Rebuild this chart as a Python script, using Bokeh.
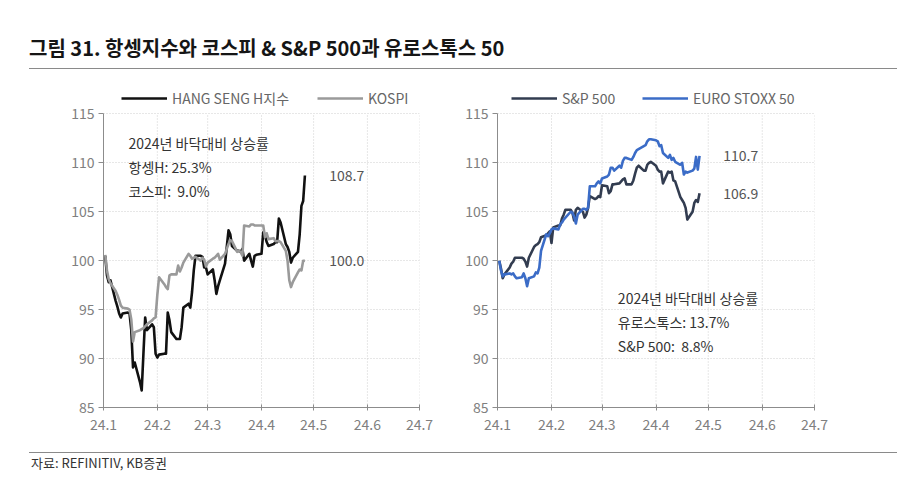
import pandas as pd
from bokeh.plotting import figure
from bokeh.models import Div, Legend, LegendItem, FixedTicker, Label, Range1d
from bokeh.layouts import column, row
from bokeh.embed import file_html
from bokeh.resources import INLINE

FONT = "Noto Sans CJK KR"

# ---------------- data ----------------
dates = pd.bdate_range("2024-01-02", "2024-04-26")
month_starts = pd.date_range("2024-01-01", "2024-07-01", freq="MS")
month_labels = ["24.1", "24.2", "24.3", "24.4", "24.5", "24.6", "24.7"]
y_ticks = [85, 90, 95, 100, 105, 110, 115]

hscei = [
    100.5, 98.5, 97.8, 98.0,
    95.9, 95.3, 94.6, 94.2, 94.6,
    94.7, 94.6, 92.9, 89.1, 89.6,
    87.6, 86.75, 90.5, 94.2, 92.9,
    93.5, 93.2, 90.5, 90.1, 90.4,
    90.5, 90.5, 94.7, 93.9, 92.7,
    92.0, 92.0, 92.0, 93.2, 95.2,
    95.6, 95.2, 96.8, 99.0, 100.5,
    100.5, 100.4, 99.3, 99.3, 98.6,
    99.1, 98.0, 96.6, 97.4, 98.0,
    99.7, 101.4, 103.1, 102.7, 101.5,
    101.0, 101.0, 100.9, 101.2, 100.0,
    100.7, 100.0, 99.4, 100.5, 100.6,
    100.7, 102.9, 102.6, 101.9, 101.5,
    101.7, 101.9, 101.9, 104.3, 103.9,
    101.7, 101.4, 100.9, 99.8, 100.3,
    100.9, 102.7, 105.6, 106.1, 108.7,
]
kospi = [
    100.6, 99.0, 98.1, 97.7,
    96.9, 96.5, 96.0, 95.4, 95.2,
    95.1, 95.0, 94.0, 91.74, 92.7,
    92.9, 93.0, 93.1, 93.3, 93.5,
    93.9, 94.1, 94.2, 96.5, 98.3,
    97.6, 97.3, 97.1, 98.5, 98.6,
    98.6, 99.5, 98.9, 99.3, 99.8,
    100.7, 100.5, 100.2, 100.3, 100.4,
    100.0, 100.3, 100.1, 99.4, 99.8,
    100.2, 100.3, 100.5, 100.7, 100.1,
    100.7, 101.2, 101.7, 102.1, 102.0,
    100.9, 101.0, 100.9, 100.5, 103.6,
    103.5, 103.7, 103.7, 103.6, 103.6,
    103.6, 103.6, 102.4, 102.8, 102.2,
    102.3, 102.0, 102.0, 102.0, 101.9,
    101.0, 100.0, 98.0, 97.3, 97.8,
    98.8, 99.1, 99.0, 100.0, 100.0,
]
sp500 = [
    100.0, 99.2, 98.2, 98.6,
    99.3, 99.7, 99.9, 100.3, 100.3,
    100.3, 100.2, 99.9, 99.4, 100.3,
    101.4, 101.6, 101.7, 101.9, 102.4,
    102.6, 102.8, 103.0, 101.8, 103.4,
    103.6, 103.6, 104.3, 104.7, 105.2,
    105.2, 104.9, 104.1, 105.2, 105.4,
    105.0, 104.4, 104.7, 105.4, 106.6,
    106.3, 106.4, 106.6, 106.5, 107.7,
    107.6, 106.9, 107.1, 107.8, 107.8,
    107.9, 108.1, 108.3, 108.4, 107.8,
    107.8, 108.2, 108.9, 109.5, 109.7,
    109.2, 109.2, 109.8, 110.0, 110.1,
    109.7, 109.3, 109.1, 109.1, 107.9,
    109.1, 109.0, 109.1, 108.2, 108.1,
    106.5, 106.2, 105.9, 105.4, 104.2,
    105.0, 105.9, 106.2, 106.0, 106.9,
]
eurostoxx = [
    100.0, 99.0, 98.4, 98.6,
    98.7, 98.6, 98.7, 98.4, 98.2,
    98.3, 98.7, 98.2, 97.4, 98.2,
    98.4, 98.8, 98.7, 99.3, 101.0,
    102.7, 102.5, 102.8, 103.2, 103.3,
    103.2, 103.7, 103.9, 104.2, 104.4,
    105.0, 104.9, 104.5, 103.8, 104.7,
    105.3, 105.3, 105.2, 105.4, 107.6,
    107.6, 107.9, 108.1, 107.9, 108.4,
    108.6, 108.8, 109.5, 109.5, 109.2,
    109.7, 109.5, 110.2, 110.5, 110.5,
    110.3, 110.6, 111.0, 111.3, 111.4,
    111.7, 111.8, 112.2, 112.4, 112.4,
    112.3, 112.2, 111.7, 111.8, 111.0,
    110.5, 110.8, 110.3, 110.5, 110.1,
    109.8, 110.0, 108.8, 109.1, 109.0,
    109.2, 109.4, 110.6, 109.3, 110.7,
]

left_names = ["HANG SENG H지수", "KOSPI"]
right_names = ["S&P 500", "EURO STOXX 50"]
left_notes = ["2024년 바닥대비 상승률", "항셍H: 25.3%", "코스피: \u00a09.0%"]
right_notes = ["2024년 바닥대비 상승률", "유로스톡스: 13.7%", "S&P 500: \u00a08.8%"]

title_text = "그림 31. 항셍지수와 코스피 & S&P 500과 유로스톡스 50"
source_text = "자료: REFINITIV, KB증권"

origin = pd.Timestamp("2024-01-01")
x_days = [(d - origin).days for d in dates]
tick_days = [(d - origin).days for d in month_starts]
Y_MIN, Y_MAX = y_ticks[0], y_ticks[-1]


def build(width, bl, br, series, names, colors, legend_x, legend_label_w,
          notes, note_x, note_y0, end_x):
    # the frame reaches 3 units above the top tick so the legend sits inside it
    p = figure(width=width, height=362,
               x_range=Range1d(0, tick_days[-1]), y_range=Range1d(Y_MIN, Y_MAX + 3),
               output_backend="svg", toolbar_location=None,
               min_border_left=bl, min_border_right=br,
               min_border_top=6, min_border_bottom=33)
    p.outline_line_color = None
    p.background_fill_color = "white"
    p.border_fill_color = "white"

    p.xaxis.ticker = FixedTicker(ticks=tick_days)
    p.xaxis.major_label_overrides = {t: l for t, l in zip(tick_days, month_labels)}
    p.yaxis.ticker = FixedTicker(ticks=y_ticks)
    p.yaxis.bounds = (Y_MIN, Y_MAX)
    for ax in (p.xaxis, p.yaxis):
        ax.axis_line_color = "#8c8c8c"
        ax.axis_line_width = 1
        ax.major_tick_line_color = "#8c8c8c"
        ax.minor_tick_line_color = None
        ax.major_label_text_font = FONT
        ax.major_label_text_font_size = "14px"
        ax.major_label_text_color = "#808080"
    p.xaxis.major_tick_in = 3
    p.xaxis.major_tick_out = 3
    p.xaxis.major_label_standoff = 8
    p.yaxis.major_tick_in = 0
    p.yaxis.major_tick_out = 5
    p.yaxis.major_label_standoff = 4

    p.xgrid.visible = False
    p.ygrid.ticker = FixedTicker(ticks=y_ticks)
    p.ygrid.grid_line_color = "#cfcfcf"
    p.ygrid.grid_line_dash = "1 2"
    p.ygrid.grid_line_width = 1
    # vertical grid lines limited to the tick span
    p.segment(x0=tick_days[1:], y0=[Y_MIN] * (len(tick_days) - 1),
              x1=tick_days[1:], y1=[Y_MAX] * (len(tick_days) - 1),
              line_color="#cfcfcf", line_dash="1 2", line_width=1, level="underlay")

    items = []
    for ys, name, col in zip(series, names, colors):
        r = p.line(x_days, ys, line_color=col, line_width=2.6, line_join="round")
        items.append(LegendItem(label=name, renderers=[r]))
        last = ys[-1]
        p.add_layout(Label(x=end_x, y=last, text=f"{last:.1f}", text_font=FONT,
                           text_font_size="14px", text_color="#555555",
                           text_baseline="middle", text_align="left"))

    legend = Legend(items=items, location=(legend_x, 299), orientation="horizontal",
                    glyph_width=46, glyph_height=20, label_standoff=5,
                    label_width=legend_label_w, spacing=20, padding=0, margin=0,
                    border_line_color=None, background_fill_alpha=0,
                    label_text_font=FONT, label_text_font_size="14px",
                    label_text_color="#666666")
    p.add_layout(legend)

    for i, t in enumerate(notes):
        p.add_layout(Label(x=note_x, y=note_y0 - i * 2.45, text=t, text_font=FONT,
                           text_font_size="14px", text_color="#333333",
                           text_baseline="middle", text_align="left"))
    return p


p1 = build(458, 103, 39, [hscei, kospi], left_names, ["#111111", "#9a9a9a"],
           18, 125, left_notes, 14.4, 112.05, 130)
p2 = build(433, 39, 77, [sp500, eurostoxx], right_names, ["#323c50", "#3b6cc7"],
           14, 60, right_notes, 69.1, 96.2, 129.6)

top = Div(text=(
    f'<div style="position:relative;width:884px;height:68px;font-family:\'{FONT}\';">'
    f'<div style="position:absolute;left:24px;top:31px;font-size:20px;line-height:24px;'
    f'font-weight:bold;color:#151515;white-space:nowrap;">{title_text}</div>'
    f'<div style="position:absolute;left:24px;top:63px;width:868px;height:0;'
    f'border-top:1.5px solid #8a8a8a;"></div></div>'), width=884, height=68)

bottom = Div(text=(
    f'<div style="position:relative;width:884px;height:56px;font-family:\'{FONT}\';">'
    f'<div style="position:absolute;left:24px;top:7px;width:868px;height:0;'
    f'border-top:1.5px solid #8a8a8a;"></div>'
    f'<div style="position:absolute;left:26px;top:9px;font-size:13px;line-height:18px;'
    f'color:#333333;white-space:nowrap;">{source_text}</div></div>'), width=884, height=56)

layout = column(top, row(p1, p2), bottom)
open("out.html", "w").write(file_html(layout, INLINE))
